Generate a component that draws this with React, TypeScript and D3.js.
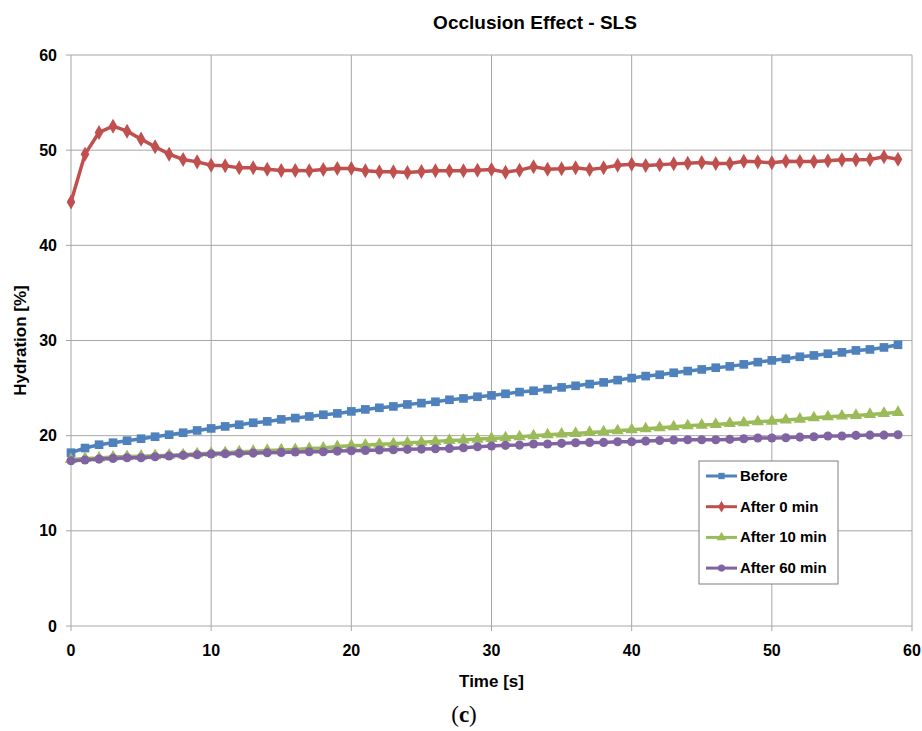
import React, { useEffect, useRef } from "react";
import * as d3 from "d3";

// time axis: one reading per second
const times = d3.range(0, 60);

const before = [
  18.21, 18.7, 19.05, 19.26, 19.47, 19.68, 19.89, 20.1, 20.31, 20.55,
  20.76, 20.97, 21.15, 21.36, 21.5, 21.71, 21.85, 22.02, 22.2, 22.34,
  22.55, 22.76, 22.93, 23.07, 23.28, 23.42, 23.56, 23.77, 23.91, 24.09,
  24.23, 24.4, 24.58, 24.72, 24.89, 25.07, 25.24, 25.42, 25.6, 25.84,
  26.05, 26.26, 26.4, 26.61, 26.79, 26.96, 27.14, 27.28, 27.49, 27.73,
  27.91, 28.08, 28.29, 28.43, 28.61, 28.75, 28.96, 29.06, 29.27, 29.55,
];

const after0 = [
  44.55, 49.58, 51.86, 52.52, 52.0, 51.16, 50.35, 49.58, 49.02, 48.77,
  48.42, 48.35, 48.14, 48.14, 48.0, 47.86, 47.86, 47.83, 47.97, 48.07,
  48.07, 47.83, 47.72, 47.72, 47.65, 47.76, 47.83, 47.83, 47.83, 47.9,
  47.97, 47.69, 47.9, 48.25, 48.0, 48.04, 48.14, 47.97, 48.14, 48.42,
  48.53, 48.39, 48.46, 48.56, 48.63, 48.71, 48.6, 48.6, 48.84, 48.77,
  48.67, 48.84, 48.81, 48.81, 48.88, 48.98, 48.98, 49.02, 49.3, 49.05,
];

const after10 = [
  17.5, 17.6, 17.65, 17.75, 17.8, 17.85, 17.9, 17.95, 18.0, 18.1,
  18.15, 18.2, 18.3, 18.35, 18.45, 18.5, 18.55, 18.65, 18.7, 18.85,
  18.95, 19.0, 19.1, 19.15, 19.25, 19.3, 19.4, 19.5, 19.55, 19.64,
  19.71, 19.78, 19.89, 19.99, 20.1, 20.17, 20.24, 20.34, 20.41, 20.52,
  20.62, 20.73, 20.83, 20.94, 21.04, 21.11, 21.18, 21.29, 21.36, 21.46,
  21.53, 21.64, 21.74, 21.88, 21.99, 22.06, 22.13, 22.23, 22.34, 22.45,
];

const after60 = [
  17.37, 17.44, 17.54, 17.61, 17.68, 17.68, 17.79, 17.86, 17.93, 18.0,
  18.07, 18.1, 18.14, 18.17, 18.21, 18.24, 18.28, 18.31, 18.31, 18.38,
  18.42, 18.45, 18.49, 18.52, 18.56, 18.59, 18.63, 18.66, 18.73, 18.84,
  18.91, 18.98, 19.01, 19.12, 19.12, 19.19, 19.26, 19.29, 19.29, 19.36,
  19.36, 19.43, 19.5, 19.54, 19.57, 19.57, 19.57, 19.61, 19.68, 19.75,
  19.75, 19.78, 19.85, 19.89, 19.96, 19.96, 20.03, 20.06, 20.06, 20.1,
];

const seriesNames = ["Before", "After 0 min", "After 10 min", "After 60 min"];
const seriesColors = ["#4F81BD", "#C0504D", "#9BBB59", "#8064A2"];
const seriesSymbols = [d3.symbolSquare, d3.symbolDiamond, d3.symbolTriangle, d3.symbolCircle];
const seriesValues = [before, after0, after10, after60];

const xTicks = [0, 10, 20, 30, 40, 50, 60];
const yTicks = [0, 10, 20, 30, 40, 50, 60];

const W = 922;
const H = 731;
const FONT = "'Liberation Sans Narrow', 'Liberation Sans', Roboto, sans-serif";

export default function App() {
  const svgRef = useRef<SVGSVGElement>(null);

  useEffect(() => {
    const svg = d3.select(svgRef.current);
    svg.selectAll("*").remove();

    const margin = { top: 55, right: 10, bottom: 105, left: 71 };
    const x = d3.scaleLinear().domain([0, 60]).range([margin.left, W - margin.right]);
    const y = d3.scaleLinear().domain([0, 60]).range([H - margin.bottom, margin.top]);

    const grid = svg.append("g");
    // horizontal grid + ticks
    grid
      .selectAll("line.h")
      .data(yTicks)
      .join("line")
      .attr("class", "h")
      .attr("x1", x(0) - 5)
      .attr("x2", x(60))
      .attr("y1", (d) => y(d))
      .attr("y2", (d) => y(d))
      .attr("stroke", "#a6a6a6")
      .attr("stroke-width", 1);
    // vertical grid + ticks
    grid
      .selectAll("line.v")
      .data(xTicks)
      .join("line")
      .attr("class", "v")
      .attr("x1", (d) => x(d))
      .attr("x2", (d) => x(d))
      .attr("y1", y(60))
      .attr("y2", y(0) + 5)
      .attr("stroke", "#a6a6a6")
      .attr("stroke-width", 1);

    // tick labels
    svg
      .append("g")
      .selectAll("text")
      .data(yTicks)
      .join("text")
      .attr("x", x(0) - 14)
      .attr("y", (d) => y(d) + 5.5)
      .attr("text-anchor", "end")
      .style("font-family", FONT)
      .style("font-weight", "bold")
      .style("font-size", "16px")
      .text((d) => d);
    svg
      .append("g")
      .selectAll("text")
      .data(xTicks)
      .join("text")
      .attr("x", (d) => x(d))
      .attr("y", y(0) + 30)
      .attr("text-anchor", "middle")
      .style("font-family", FONT)
      .style("font-weight", "bold")
      .style("font-size", "16px")
      .text((d) => d);

    // series
    const line = d3
      .line<number>()
      .x((_, i) => x(times[i]))
      .y((d) => y(d));

    seriesValues.forEach((vals, si) => {
      const g = svg.append("g");
      g.append("path")
        .attr("d", line(vals))
        .attr("fill", "none")
        .attr("stroke", seriesColors[si])
        .attr("stroke-width", 3.5);
      const sym = d3.symbol(seriesSymbols[si], si === 0 ? 75 : 65);
      g.selectAll("path.m")
        .data(vals)
        .join("path")
        .attr("class", "m")
        .attr("d", sym)
        .attr("transform", (d, i) => `translate(${x(times[i])},${y(d)})`)
        .attr("fill", seriesColors[si]);
    });

    // titles
    svg
      .append("text")
      .attr("x", 535)
      .attr("y", 29)
      .attr("text-anchor", "middle")
      .style("font-family", FONT)
      .style("font-weight", "bold")
      .style("font-size", "19px")
      .text("Occlusion Effect - SLS");
    svg
      .append("text")
      .attr("x", (x(0) + x(60)) / 2)
      .attr("y", y(0) + 61)
      .attr("text-anchor", "middle")
      .style("font-family", FONT)
      .style("font-weight", "bold")
      .style("font-size", "17px")
      .text("Time [s]");
    svg
      .append("text")
      .attr("transform", `translate(26,${(y(0) + y(60)) / 2}) rotate(-90)`)
      .attr("text-anchor", "middle")
      .style("font-family", FONT)
      .style("font-weight", "bold")
      .style("font-size", "17px")
      .text("Hydration [%]");
    svg
      .append("text")
      .attr("x", 464)
      .attr("y", 722)
      .attr("text-anchor", "middle")
      .style("font-family", "'Liberation Serif', 'DejaVu Serif', serif")
      .style("font-size", "23px")
      .html("(<tspan font-weight='bold'>c</tspan>)");

    // legend
    const lg = svg.append("g").attr("transform", "translate(699,461)");
    lg.append("rect")
      .attr("width", 139)
      .attr("height", 123)
      .attr("fill", "white")
      .attr("stroke", "#7f7f7f")
      .attr("stroke-width", 1);
    seriesNames.forEach((name, i) => {
      const cy = 15 + i * 30.7;
      lg.append("line")
        .attr("x1", 7)
        .attr("x2", 38)
        .attr("y1", cy)
        .attr("y2", cy)
        .attr("stroke", seriesColors[i])
        .attr("stroke-width", 3);
      lg.append("path")
        .attr("d", d3.symbol(seriesSymbols[i], 40)())
        .attr("transform", `translate(22.5,${cy})`)
        .attr("fill", seriesColors[i]);
      lg.append("text")
        .attr("x", 41)
        .attr("y", cy + 5)
        .style("font-family", FONT)
        .style("font-weight", "bold")
        .style("font-size", "15px")
        .text(name);
    });
  }, []);

  return (
    <svg
      ref={svgRef}
      width={W}
      height={H}
      style={{ position: "absolute", left: 0, top: 0, background: "white" }}
    />
  );
}
